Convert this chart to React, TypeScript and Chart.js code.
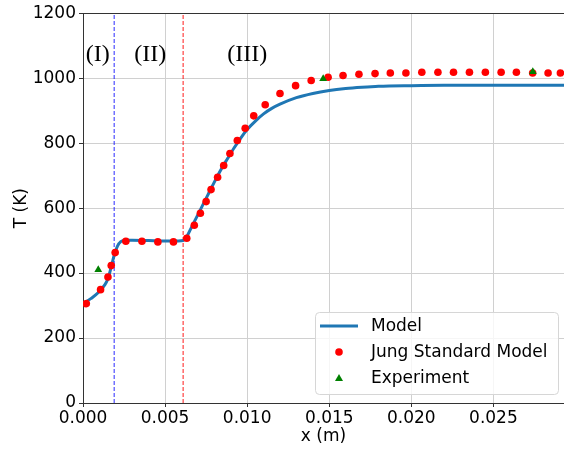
import React, { useEffect, useRef } from 'react';
import { Chart, registerables } from 'chart.js';
Chart.register(...registerables);

// Model curve
const modelX = [0.0, 0.0005, 0.001, 0.0013, 0.0015, 0.0017, 0.0019, 0.0021, 0.0023, 0.0026, 0.003, 0.004, 0.005, 0.0058, 0.0061, 0.0063, 0.0065, 0.0068, 0.0072, 0.0076, 0.008, 0.0084, 0.0088, 0.0092, 0.0096, 0.01, 0.0105, 0.011, 0.0115, 0.012, 0.013, 0.014, 0.015, 0.016, 0.017, 0.018, 0.02, 0.022, 0.025, 0.0293];
const modelT = [306, 322, 343, 362, 380, 415, 455, 483, 497, 501, 501, 500, 499, 499, 500, 510, 530, 560, 600, 640, 680, 718, 752, 785, 815, 842, 868, 890, 907, 920, 940, 953, 962, 968, 972, 975, 977, 978, 978, 978];

// Jung standard model points
const jungX = [0.0002, 0.00107, 0.00152, 0.00172, 0.00196, 0.00261, 0.00359, 0.00456, 0.00551, 0.00632, 0.00678, 0.00715, 0.0075, 0.0078, 0.0082, 0.00857, 0.00895, 0.0094, 0.00988, 0.0104, 0.0111, 0.012, 0.01295, 0.0139, 0.01493, 0.01584, 0.01681, 0.01779, 0.01872, 0.01967, 0.02064, 0.02162, 0.02257, 0.02354, 0.02451, 0.02547, 0.0264, 0.02739, 0.02833, 0.02908];
const jungT = [306, 349, 388, 423, 463, 498, 498, 496, 496, 507, 547, 584, 620, 657, 695, 731, 768, 808, 846, 884, 918, 953, 977, 993, 1003, 1008, 1012, 1014, 1016, 1016, 1018, 1018, 1018, 1018, 1018, 1018, 1018, 1016, 1016, 1016];

// Experiment
const expX = [0.00093, 0.01463, 0.0274];
const expT = [410, 998, 1020];

// Region boundaries and labels
const boundaryX = [0.0019, 0.0061];
const boundaryColors = ['rgba(0,0,255,0.7)', 'rgba(255,0,0,0.75)'];
const regionLabels = ['(I)', '(II)', '(III)'];
const regionLabelX = [0.0009, 0.0041, 0.01];
const regionLabelT = 1072;

const xMin = 0;
const xMax = 0.0293;
const xStep = 0.005;
const yMin = 0;
const yMax = 1200;
const yStep = 200;

const FONT = 'DejaVu Sans';

export default function App() {
  const ref = useRef<HTMLCanvasElement>(null);
  useEffect(() => {
    document.body.style.margin = '0';
    const canvas = ref.current!;

    const overlay = {
      id: 'overlay',
      afterDatasetsDraw(chart: any) {
        const { ctx, scales } = chart;
        ctx.save();
        ctx.fillStyle = '#000';
        ctx.font = '24px "Liberation Serif"';
        ctx.textAlign = 'center';
        ctx.textBaseline = 'middle';
        regionLabels.forEach((t, i) => {
          ctx.fillText(t, scales.x.getPixelForValue(regionLabelX[i]), scales.y.getPixelForValue(regionLabelT));
        });
        ctx.restore();
      },
      afterDraw(chart: any) {
        const { ctx, chartArea } = chart;
        const ds = chart.data.datasets;
        ctx.save();
        const bx = chartArea.right - 249;
        const by = chartArea.bottom - 91;
        const bw = 243;
        const bh = 82;
        ctx.beginPath();
        (ctx as any).roundRect(bx + 0.5, by + 0.5, bw, bh, 4);
        ctx.fillStyle = 'rgba(255,255,255,0.8)';
        ctx.fill();
        ctx.strokeStyle = '#d6d6d6';
        ctx.lineWidth = 1;
        ctx.stroke();
        ctx.font = `17px "${FONT}"`;
        ctx.textBaseline = 'middle';
        ctx.textAlign = 'left';
        [0, 1, 2].forEach((i) => {
          const d = ds[i];
          const cy = by + 14 + i * 26;
          if (i === 0) {
            ctx.strokeStyle = d.borderColor;
            ctx.lineWidth = 3;
            ctx.beginPath();
            ctx.moveTo(bx + 5, cy);
            ctx.lineTo(bx + 43, cy);
            ctx.stroke();
          } else if (i === 1) {
            ctx.fillStyle = d.backgroundColor;
            ctx.beginPath();
            ctx.arc(bx + 24, cy, 3.8, 0, Math.PI * 2);
            ctx.fill();
          } else {
            ctx.fillStyle = d.backgroundColor;
            ctx.beginPath();
            ctx.moveTo(bx + 24, cy - 4);
            ctx.lineTo(bx + 28, cy + 3);
            ctx.lineTo(bx + 20, cy + 3);
            ctx.closePath();
            ctx.fill();
          }
          ctx.fillStyle = '#000';
          ctx.fillText(d.label, bx + 56, cy + 1);
        });
        ctx.restore();
      },
    };

    const vlineSets = boundaryX.map((bxv, i) => ({
      type: 'line' as const,
      label: '',
      data: [{ x: bxv, y: yMin }, { x: bxv, y: yMax }],
      borderColor: boundaryColors[i],
      borderWidth: 1.2,
      borderDash: [4, 2],
      pointRadius: 0,
      showLine: true,
      order: 3,
    }));

    const chart = new Chart(canvas, {
      type: 'scatter',
      data: {
        datasets: [
          {
            type: 'line',
            label: 'Model',
            data: modelX.map((x, i) => ({ x, y: modelT[i] })),
            borderColor: '#1f77b4',
            backgroundColor: '#1f77b4',
            borderWidth: 3,
            pointRadius: 0,
            cubicInterpolationMode: 'monotone',
            showLine: true,
            order: 2,
          } as any,
          {
            label: 'Jung Standard Model',
            data: jungX.map((x, i) => ({ x, y: jungT[i] })),
            backgroundColor: '#ff0000',
            borderWidth: 0,
            pointRadius: 3.8,
            order: 1,
          },
          {
            label: 'Experiment',
            data: expX.map((x, i) => ({ x, y: expT[i] })),
            backgroundColor: '#008000',
            borderWidth: 0,
            pointStyle: 'triangle',
            pointRadius: 4.5,
            order: 0,
          },
          ...vlineSets,
        ],
      },
      options: {
        responsive: false,
        animation: false,
        devicePixelRatio: 1,
        layout: { autoPadding: false, padding: { top: 11, right: 0, bottom: 0, left: 0 } },
        plugins: { legend: { display: false }, tooltip: { enabled: false } },
        scales: {
          x: {
            type: 'linear',
            min: xMin,
            max: xMax,
            ticks: {
              stepSize: xStep,
              includeBounds: false,
              color: '#000',
              font: { family: FONT, size: 17 },
              padding: 1,
              maxRotation: 0,
              callback: (v: any) => Number(v).toFixed(3),
            },
            grid: { color: '#d0d0d0', tickColor: '#333', tickLength: 4 },
            border: { color: '#333', width: 1 },
            title: { display: true, text: 'x (m)', color: '#000', font: { family: FONT, size: 17 }, padding: { top: 0, bottom: 4 } },
            afterFit: (s: any) => { s.height = 48; },
          },
          y: {
            type: 'linear',
            min: yMin,
            max: yMax,
            ticks: {
              stepSize: yStep,
              color: '#000',
              font: { family: FONT, size: 17 },
              padding: 3,
              callback: (v: any) => String(Math.round(Number(v))),
            },
            grid: {
              color: (c: any) => (c.tick && c.tick.value === yMax ? '#333' : '#d0d0d0'),
              tickColor: '#333',
              tickLength: 4,
            },
            border: { color: '#333', width: 1 },
            title: { display: true, text: 'T (K)', color: '#000', font: { family: FONT, size: 17 }, padding: { top: 11, bottom: 0 } },
            afterFit: (s: any) => { s.width = 83; },
          },
        },
      },
      plugins: [overlay],
    });
    return () => chart.destroy();
  }, []);
  return (
    <div style={{ width: 564, height: 451 }}>
      <canvas ref={ref} width={564} height={451} style={{ display: 'block' }} />
    </div>
  );
}
